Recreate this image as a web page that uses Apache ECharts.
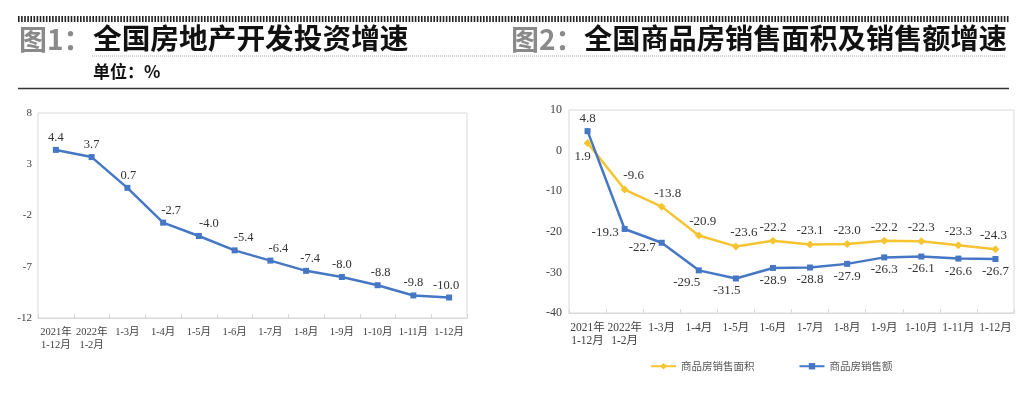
<!DOCTYPE html>
<html>
<head>
<meta charset="utf-8">
<script src="https://cdn.jsdelivr.net/npm/echarts@6/dist/echarts.min.js"></script>
<style>
html,body{margin:0;padding:0;background:#fff;}
#main{width:1036px;height:394px;}
</style>
</head>
<body>
<div id="main"></div>
<script>
// ---- data ----
const categories = ['2021年\n1-12月','2022年\n1-2月','1-3月','1-4月','1-5月','1-6月','1-7月','1-8月','1-9月','1-10月','1-11月','1-12月'];
const investGrowth = [4.4, 3.7, 0.7, -2.7, -4.0, -5.4, -6.4, -7.4, -8.0, -8.8, -9.8, -10.0];
const salesAreaGrowth = [1.9, -9.6, -13.8, -20.9, -23.6, -22.2, -23.1, -23.0, -22.2, -22.3, -23.3, -24.3];
const salesAmountGrowth = [4.8, -19.3, -22.7, -29.5, -31.5, -28.9, -28.8, -27.9, -26.3, -26.1, -26.6, -26.7];
const yTicks1 = [-12, -7, -2, 3, 8];
const yTicks2 = [-40, -30, -20, -10, 0, 10];
const seriesNames = ['商品房销售面积', '商品房销售额'];
const title1 = '全国房地产开发投资增速';
const title2 = '全国商品房销售面积及销售额增速';
const unitText = '单位：%';

// ---- styling ----
const BLUE = '#4677c4';
const YELLOW = '#f6c431';
const SERIF = "'Liberation Serif','Times New Roman','Noto Sans CJK SC',serif";
const SANS = "'Noto Sans CJK SC','Noto Sans',sans-serif";
const GRID_C = '#d9d9d9';
const fmt = p => Number(p.value).toFixed(1);

const chart = echarts.init(document.getElementById('main'), null, {renderer: 'canvas'});

// label tweaks (style only)
const off1 = [0, 0, 1, 8, 10, 9, 8, 4, 0, 3, 0, -3];
const areaLbl = [
  {position: 'bottom', offset: [-5, 0]},
  {offset: [9, 0]}, {offset: [6, 0]}, {offset: [4, 0]}, {offset: [8, 0]},
  {}, {}, {}, {}, {}, {}, {offset: [-2, 0]}
];
const amtLbl = [
  {position: 'top'},
  {position: 'left', offset: [0, 4]},
  {position: 'left', offset: [0, 5]},
  {offset: [-12, 0]}, {offset: [-9, 0]},
  {}, {}, {}, {}, {}, {}, {}
];

function catAxis(gridIndex, fs, margin) {
  return {
    type: 'category', gridIndex, data: categories, boundaryGap: true,
    axisLine: {show: true, onZero: false, lineStyle: {color: GRID_C, width: 1}},
    axisTick: {show: true, inside: true, length: 4, lineStyle: {color: GRID_C}},
    axisLabel: {fontFamily: SERIF, fontSize: fs, color: '#404040', margin, lineHeight: 13, interval: 0},
    splitLine: {show: false}
  };
}

const graphics = [
  {type: 'line', shape: {x1: 18, y1: 19, x2: 1009, y2: 19}, style: {stroke: '#222', lineWidth: 6, lineDash: [1.6, 1.5]}, silent: true},
  {type: 'line', shape: {x1: 92, y1: 56, x2: 1006, y2: 56}, style: {stroke: '#aaa', lineWidth: 1, lineDash: [1, 1]}, silent: true},
  {type: 'line', shape: {x1: 18, y1: 88.5, x2: 1009, y2: 88.5}, style: {stroke: '#333', lineWidth: 1.5}, silent: true},
  {type: 'text', left: 19, top: 25, style: {text: '图1：', font: 'bold 28px ' + SANS, fill: '#8a8a8a'}},
  {type: 'text', left: 93, top: 24, style: {text: title1, font: 'bold 28.7px ' + SANS, fill: '#111'}},
  {type: 'text', left: 93, top: 63, style: {text: unitText, font: 'bold 17px ' + SANS, fill: '#111'}},
  {type: 'text', left: 511, top: 25, style: {text: '图2：', font: 'bold 28px ' + SANS, fill: '#8a8a8a'}},
  {type: 'text', left: 584, top: 24, style: {text: title2, font: 'bold 28.2px ' + SANS, fill: '#111'}}
];

const option = {
  backgroundColor: '#fff',
  animation: false,
  graphic: graphics,
  legend: {
    left: 645, top: 356, itemWidth: 25, itemHeight: 8, itemGap: 44,
    data: seriesNames,
    textStyle: {fontFamily: SANS, fontSize: 10.5, color: '#595959'}
  },
  grid: [
    {left: 38, top: 113, width: 429, height: 205, show: true, borderColor: GRID_C, borderWidth: 1, containLabel: false},
    {left: 569, top: 110, width: 445, height: 203, show: true, borderColor: GRID_C, borderWidth: 1, containLabel: false}
  ],
  xAxis: [catAxis(0, 10.5, 8), catAxis(1, 11.5, 8)],
  yAxis: [
    {
      type: 'value', gridIndex: 0, min: -12, max: 8,
      axisLine: {show: false}, axisTick: {show: false}, splitLine: {show: false},
      axisLabel: {customValues: yTicks1, fontFamily: SERIF, fontSize: 11, color: '#404040', margin: 6}
    },
    {
      type: 'value', gridIndex: 1, min: -40, max: 10, interval: 10,
      axisLine: {show: false}, axisTick: {show: false}, splitLine: {show: false},
      axisLabel: {customValues: yTicks2, fontFamily: SERIF, fontSize: 12, color: '#404040', margin: 7}
    }
  ],
  series: [
    {
      type: 'line', xAxisIndex: 0, yAxisIndex: 0, name: '投资增速',
      data: investGrowth.map((v, i) => ({value: v, label: {offset: [off1[i], 0]}})),
      symbol: 'rect', symbolSize: 6,
      lineStyle: {color: BLUE, width: 2.5}, itemStyle: {color: BLUE},
      label: {show: true, position: 'top', distance: 3, formatter: fmt, fontFamily: SERIF, fontSize: 12.5, color: '#333'}
    },
    {
      type: 'line', xAxisIndex: 1, yAxisIndex: 1, name: seriesNames[0],
      data: salesAreaGrowth.map((v, i) => ({value: v, label: areaLbl[i]})),
      symbol: 'diamond', symbolSize: 8,
      lineStyle: {color: YELLOW, width: 2.5}, itemStyle: {color: YELLOW},
      label: {show: true, position: 'top', distance: 3, formatter: fmt, fontFamily: SERIF, fontSize: 13, color: '#333'}
    },
    {
      type: 'line', xAxisIndex: 1, yAxisIndex: 1, name: seriesNames[1],
      data: salesAmountGrowth.map((v, i) => ({value: v, label: amtLbl[i]})),
      symbol: 'rect', symbolSize: 6,
      lineStyle: {color: BLUE, width: 2.5}, itemStyle: {color: BLUE},
      label: {show: true, position: 'bottom', distance: 3, formatter: fmt, fontFamily: SERIF, fontSize: 13, color: '#333'}
    }
  ]
};
chart.setOption(option);
</script>
</body>
</html>
